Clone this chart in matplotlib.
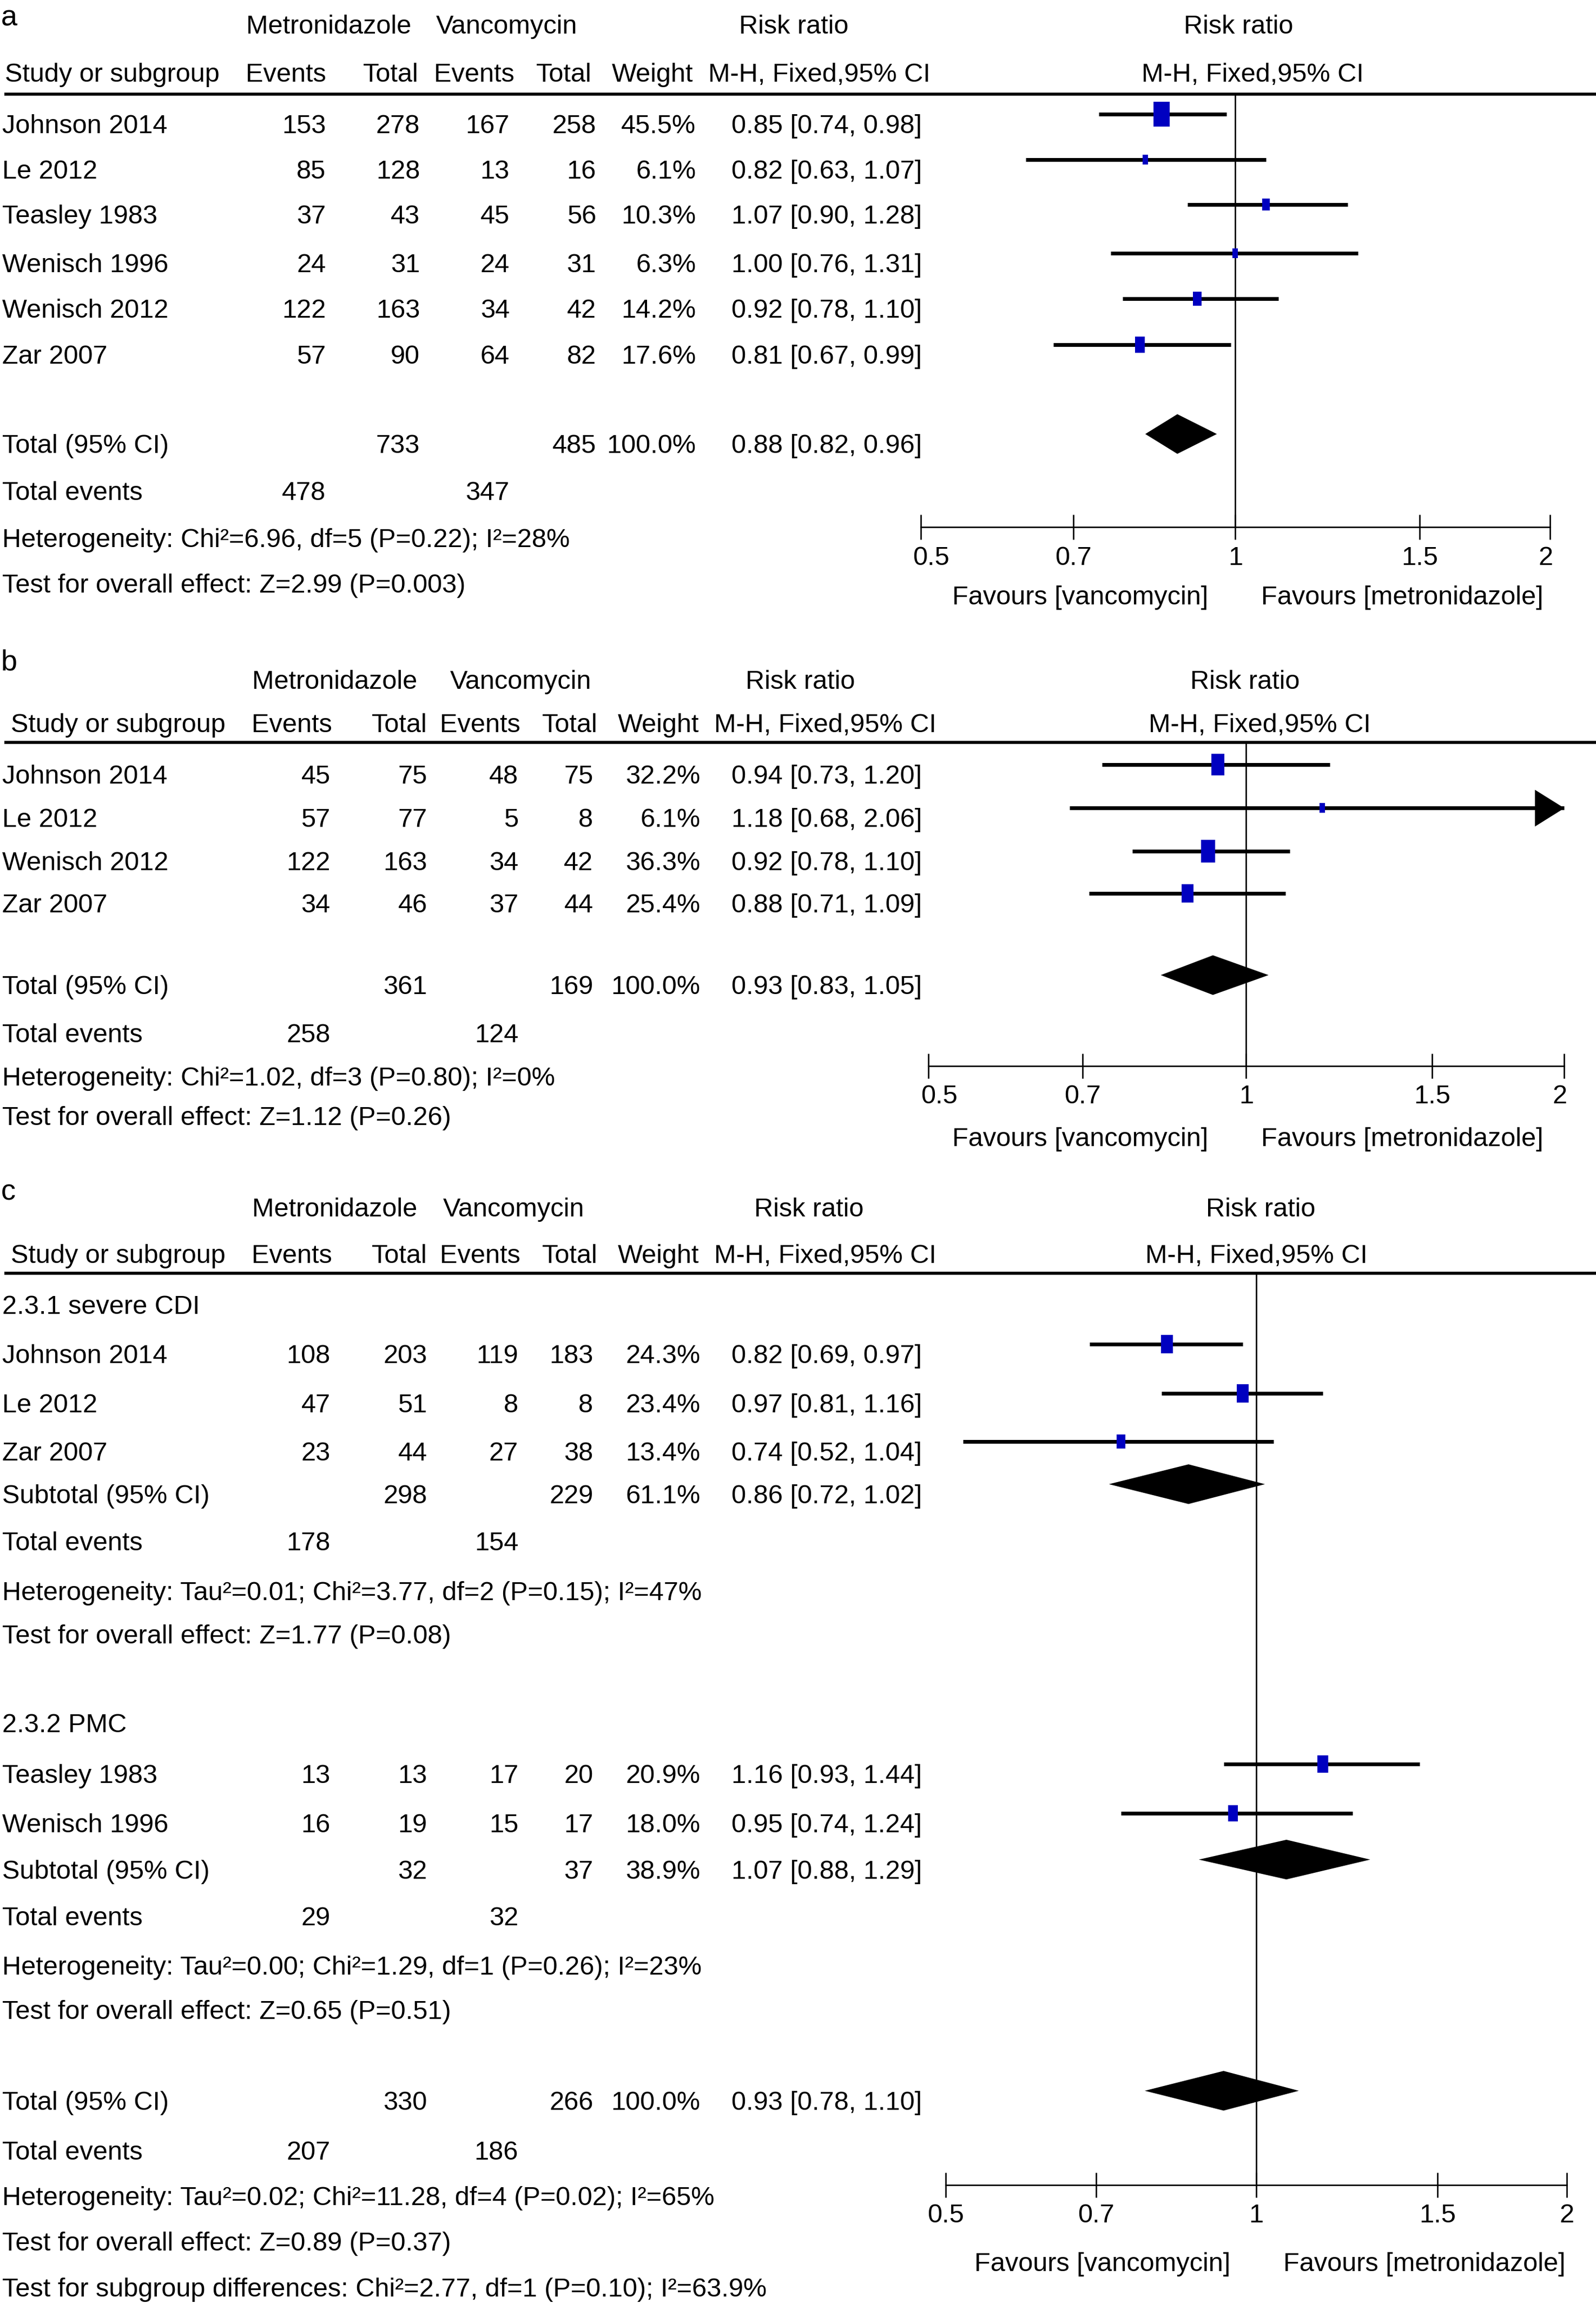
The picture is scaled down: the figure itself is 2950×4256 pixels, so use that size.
import matplotlib
matplotlib.use('Agg')
import matplotlib.pyplot as plt
from matplotlib.path import Path
from matplotlib.patches import Polygon
from matplotlib.transforms import ScaledTranslation
from matplotlib.ticker import NullLocator

plt.rcParams['font.family'] = ['Liberation Sans', 'DejaVu Sans']

# ---------------- data ----------------
# Panel a
studies_a = ['Johnson 2014', 'Le 2012', 'Teasley 1983', 'Wenisch 1996', 'Wenisch 2012', 'Zar 2007']
met_events_a = [153, 85, 37, 24, 122, 57]
met_total_a = [278, 128, 43, 31, 163, 90]
van_events_a = [167, 13, 45, 24, 34, 64]
van_total_a = [258, 16, 56, 31, 42, 82]
weight_a = [45.5, 6.1, 10.3, 6.3, 14.2, 17.6]
rr_a = [0.85, 0.82, 1.07, 1.00, 0.92, 0.81]
lo_a = [0.74, 0.63, 0.90, 0.76, 0.78, 0.67]
hi_a = [0.98, 1.07, 1.28, 1.31, 1.10, 0.99]
total_a = [733, 485, 100.0, 0.88, 0.82, 0.96]
events_a = [478, 347]
het_a = 'Heterogeneity: Chi²=6.96, df=5 (P=0.22); I²=28%'
test_a = 'Test for overall effect: Z=2.99 (P=0.003)'

# Panel b
studies_b = ['Johnson 2014', 'Le 2012', 'Wenisch 2012', 'Zar 2007']
met_events_b = [45, 57, 122, 34]
met_total_b = [75, 77, 163, 46]
van_events_b = [48, 5, 34, 37]
van_total_b = [75, 8, 42, 44]
weight_b = [32.2, 6.1, 36.3, 25.4]
rr_b = [0.94, 1.18, 0.92, 0.88]
lo_b = [0.73, 0.68, 0.78, 0.71]
hi_b = [1.20, 2.06, 1.10, 1.09]
total_b = [361, 169, 100.0, 0.93, 0.83, 1.05]
events_b = [258, 124]
het_b = 'Heterogeneity: Chi²=1.02, df=3 (P=0.80); I²=0%'
test_b = 'Test for overall effect: Z=1.12 (P=0.26)'

# Panel c, subgroup 1
group_c1 = '2.3.1 severe CDI'
studies_c1 = ['Johnson 2014', 'Le 2012', 'Zar 2007']
met_events_c1 = [108, 47, 23]
met_total_c1 = [203, 51, 44]
van_events_c1 = [119, 8, 27]
van_total_c1 = [183, 8, 38]
weight_c1 = [24.3, 23.4, 13.4]
rr_c1 = [0.82, 0.97, 0.74]
lo_c1 = [0.69, 0.81, 0.52]
hi_c1 = [0.97, 1.16, 1.04]
subtotal_c1 = [298, 229, 61.1, 0.86, 0.72, 1.02]
events_c1 = [178, 154]
het_c1 = 'Heterogeneity: Tau²=0.01; Chi²=3.77, df=2 (P=0.15); I²=47%'
test_c1 = 'Test for overall effect: Z=1.77 (P=0.08)'

# Panel c, subgroup 2
group_c2 = '2.3.2 PMC'
studies_c2 = ['Teasley 1983', 'Wenisch 1996']
met_events_c2 = [13, 16]
met_total_c2 = [13, 19]
van_events_c2 = [17, 15]
van_total_c2 = [20, 17]
weight_c2 = [20.9, 18.0]
rr_c2 = [1.16, 0.95]
lo_c2 = [0.93, 0.74]
hi_c2 = [1.44, 1.24]
subtotal_c2 = [32, 37, 38.9, 1.07, 0.88, 1.29]
events_c2 = [29, 32]
het_c2 = 'Heterogeneity: Tau²=0.00; Chi²=1.29, df=1 (P=0.26); I²=23%'
test_c2 = 'Test for overall effect: Z=0.65 (P=0.51)'

# Panel c overall
total_c = [330, 266, 100.0, 0.93, 0.78, 1.10]
events_c = [207, 186]
het_c = 'Heterogeneity: Tau²=0.02; Chi²=11.28, df=4 (P=0.02); I²=65%'
test_c = 'Test for overall effect: Z=0.89 (P=0.37)'
subdiff_c = 'Test for subgroup differences: Chi²=2.77, df=1 (P=0.10); I²=63.9%'

tick_values = [0.5, 0.7, 1, 1.5, 2]
tick_labels = ['0.5', '0.7', '1', '1.5', '2']
fav_left = 'Favours [vancomycin]'
fav_right = 'Favours [metronidazole]'

# ---------------- layout ----------------
W, H = 1087.0, 1568.0
FS = 35
LABFS = 39
BLUE = '#0000C0'
MOFF = -6.5        # marker offset relative to text centre
DIAM_H = 13.5

fig = plt.figure(figsize=(29.5, 42.56), dpi=100)
bg = fig.add_axes([0, 0, 1, 1])
bg.set_xlim(0, W)
bg.set_ylim(H, 0)
bg.axis('off')


def txt(x, y, s, ha='left', size=FS, **kw):
    bg.text(x, y + 6.4 * size / FS, s, ha=ha, va='baseline', fontsize=size, **kw)


rect_marker = Path([(-0.63, -1), (0.63, -1), (0.63, 1), (-0.63, 1), (-0.63, -1)],
                   [Path.MOVETO, Path.LINETO, Path.LINETO, Path.LINETO, Path.CLOSEPOLY])
arrow_marker = Path([(0, 0), (-1, 0.625), (-1, -0.625), (0, 0)],
                    [Path.MOVETO, Path.LINETO, Path.LINETO, Path.CLOSEPOLY])
PT = 2.714 * 0.72  # layout unit -> points


def forest_axes(L, R, T, B, lab_shift):
    ax = fig.add_axes([L / W, 1 - B / H, (R - L) / W, (B - T) / H])
    ax.set_xscale('log')
    ax.set_xlim(0.5, 2)
    ax.set_ylim(B, T)
    ax.patch.set_alpha(0)
    for s in ['top', 'left', 'right']:
        ax.spines[s].set_visible(False)
    ax.spines['bottom'].set_linewidth(1.9)
    ax.set_xticks(tick_values, labels=tick_labels)
    ax.xaxis.set_minor_locator(NullLocator())
    ax.tick_params(axis='x', direction='inout', length=33, width=1.9, pad=8.3, labelsize=FS)
    ax.tick_params(axis='y', left=False, labelleft=False)
    for lab, dx in zip(ax.get_xticklabels(), lab_shift):
        lab.set_transform(lab.get_transform() + ScaledTranslation(dx * 2.714 / 100, 0, fig.dpi_scale_trans))
    ax.axvline(1, color='black', lw=1.9)
    return ax


def study_rows(ax, ys, names, me, mt, ve, vt, w, rr, lo, hi, cols):
    for i, y in enumerate(ys):
        txt(1.5, y, names[i])
        txt(cols[0], y, str(me[i]), ha='right')
        txt(cols[1], y, str(mt[i]), ha='right')
        txt(cols[2], y, str(ve[i]), ha='right')
        txt(cols[3], y, str(vt[i]), ha='right')
        txt(cols[4], y, f'{w[i]:.1f}%', ha='right')
        txt(cols[5], y, f'{rr[i]:.2f} [{lo[i]:.2f}, {hi[i]:.2f}]', ha='right')
        ym = y + MOFF
        right = min(hi[i], 2.0)
        ax.plot([lo[i], right], [ym, ym], color='black', lw=5, solid_capstyle='butt', clip_on=False)
        if hi[i] > 2.0:
            ax.plot([2.0], [ym], marker=arrow_marker, ms=40 * PT, color='black', mew=0, clip_on=False)
        hgt = 2.55 * (w[i] ** 0.5)
        ax.plot([rr[i]], [ym], marker=rect_marker, ms=hgt * PT, color=BLUE, mew=0, ls='none', zorder=5)


def summary_row(ax, y, label, vals, cols):
    txt(1.5, y, label)
    txt(cols[1], y, str(vals[0]), ha='right')
    txt(cols[3], y, str(vals[1]), ha='right')
    txt(cols[4], y, f'{vals[2]:.1f}%', ha='right')
    txt(cols[5], y, f'{vals[3]:.2f} [{vals[4]:.2f}, {vals[5]:.2f}]', ha='right')
    ym = y + MOFF
    est, lo, hi = vals[3], vals[4], vals[5]
    ax.add_patch(Polygon([(lo, ym), (est, ym - DIAM_H), (hi, ym), (est, ym + DIAM_H)],
                         closed=True, fc='black', ec='black', lw=0, zorder=4))


def events_row(y, ev, cols):
    txt(1.5, y, 'Total events')
    txt(cols[0], y, str(ev[0]), ha='right')
    txt(cols[2], y, str(ev[1]), ha='right')


def headers(letter, ylab, y1, y2, yline, study_x, h1x, h2x, rr1x, rr2x, bold=False):
    txt(0.5, ylab, letter, size=LABFS, fontweight='bold' if bold else 'normal')
    txt(h1x[0], y1, 'Metronidazole', ha='center')
    txt(h1x[1], y1, 'Vancomycin', ha='center')
    txt(h1x[2], y1, 'Risk ratio', ha='center')
    txt(rr1x, y1, 'Risk ratio', ha='center')
    txt(study_x, y2, 'Study or subgroup')
    txt(h2x[0], y2, 'Events', ha='right')
    txt(h2x[1], y2, 'Total', ha='right')
    txt(h2x[2], y2, 'Events', ha='right')
    txt(h2x[3], y2, 'Total', ha='right')
    txt(h2x[4], y2, 'Weight', ha='right')
    txt(h2x[5], y2, 'M-H, Fixed,95% CI', ha='center')
    txt(rr2x, y2, 'M-H, Fixed,95% CI', ha='center')
    bg.plot([3, W], [yline, yline], color='black', lw=4, solid_capstyle='butt')


def favours(y, xl, xr):
    txt(xl, y, fav_left, ha='right')
    txt(xr, y, fav_right, ha='left')


# ---------------- panel a ----------------
cols_a = [222, 286, 347, 406, 474, 628]
headers('a', 10.5, 16.5, 49.3, 64, 3.3, [224, 345, 540.5], [222, 285, 350.4, 403, 472, 558], 843.5, 853)
ax_a = forest_axes(627, 1055.8, 64, 359, [7, 0, 0, 0, -3])
study_rows(ax_a, [84.4, 115, 145.6, 179, 209.7, 241], studies_a, met_events_a, met_total_a,
           van_events_a, van_total_a, weight_a, rr_a, lo_a, hi_a, cols_a)
summary_row(ax_a, 302, 'Total (95% CI)', total_a, cols_a)
events_row(334, events_a, cols_a)
txt(1.5, 366, het_a)
txt(1.5, 397, test_a)
favours(405, 823, 859)

# ---------------- panel b ----------------
cols_bc = [225, 291, 353, 404, 477, 628]
h2_bc = [226, 291, 354.5, 407, 476, 562]
headers('b', 449, 462.5, 492, 505.5, 7.4, [228, 354.7, 545], h2_bc, 848, 858)
ax_b = forest_axes(632.3, 1065.2, 505.5, 725.7, [7.4, 0, 0, 0, -3])
study_rows(ax_b, [527, 556.5, 586, 614.6], studies_b, met_events_b, met_total_b,
           van_events_b, van_total_b, weight_b, rr_b, lo_b, hi_b, cols_bc)
summary_row(ax_b, 670.4, 'Total (95% CI)', total_b, cols_bc)
events_row(703, events_b, cols_bc)
txt(1.5, 732.7, het_b)
txt(1.5, 759.7, test_b)
favours(774, 823, 859)

# ---------------- panel c ----------------
headers('c', 810, 821.7, 853.5, 867, 7.4, [228, 350, 551], h2_bc, 858.6, 855.7)
ax_c = forest_axes(644, 1067, 867, 1487.5, [0, 0, 0, 0, 0])
txt(1.5, 888, group_c1)
study_rows(ax_c, [921.5, 955, 987.8], studies_c1, met_events_c1, met_total_c1,
           van_events_c1, van_total_c1, weight_c1, rr_c1, lo_c1, hi_c1, cols_bc)
summary_row(ax_c, 1017, 'Subtotal (95% CI)', subtotal_c1, cols_bc)
events_row(1049, events_c1, cols_bc)
txt(1.5, 1083, het_c1)
txt(1.5, 1112.6, test_c1)

txt(1.5, 1173, group_c2)
study_rows(ax_c, [1207.4, 1241], studies_c2, met_events_c2, met_total_c2,
           van_events_c2, van_total_c2, weight_c2, rr_c2, lo_c2, hi_c2, cols_bc)
summary_row(ax_c, 1272.6, 'Subtotal (95% CI)', subtotal_c2, cols_bc)
events_row(1304.6, events_c2, cols_bc)
txt(1.5, 1337.8, het_c2)
txt(1.5, 1368, test_c2)

summary_row(ax_c, 1430, 'Total (95% CI)', total_c, cols_bc)
events_row(1464, events_c, cols_bc)
txt(1.5, 1495, het_c)
txt(1.5, 1526, test_c)
txt(1.5, 1557, subdiff_c)
favours(1540, 838, 874)

fig.savefig('out.png', dpi=100, facecolor='white')
